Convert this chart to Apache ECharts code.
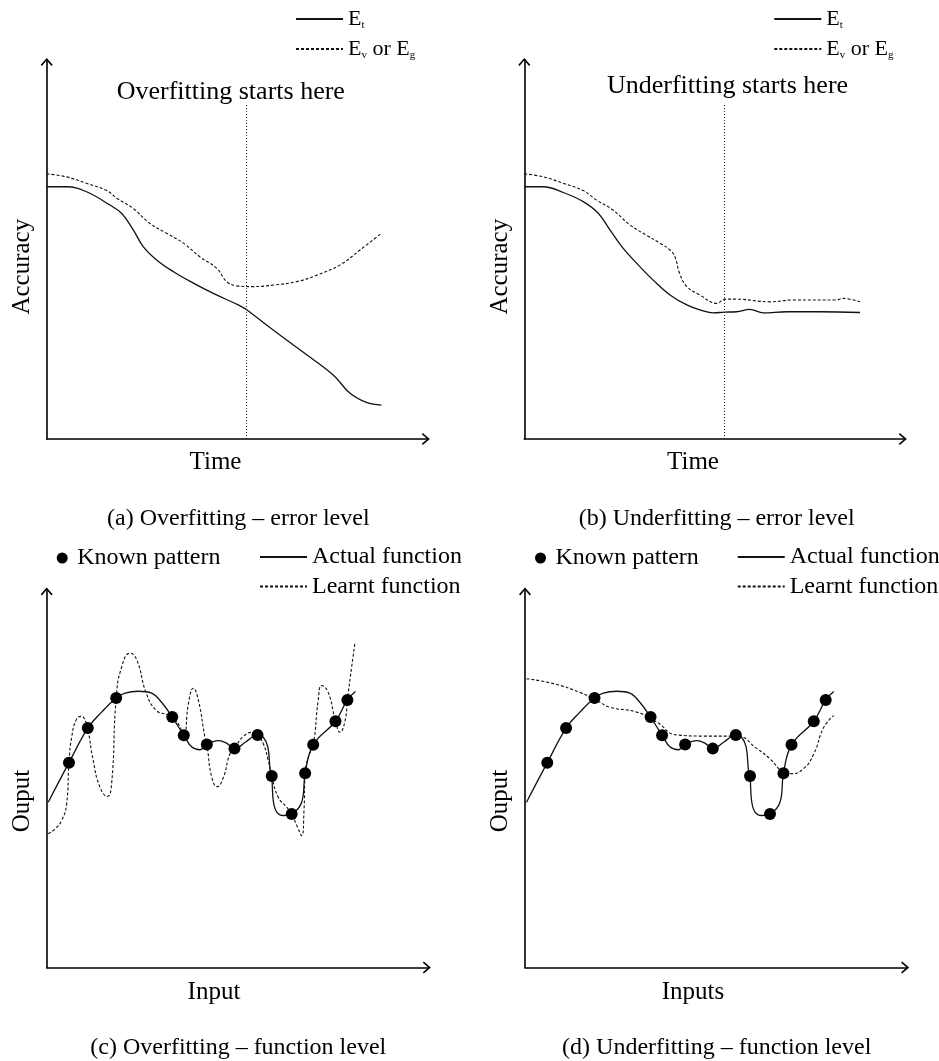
<!DOCTYPE html>
<html><head><meta charset="utf-8">
<script src="https://cdn.jsdelivr.net/npm/echarts@6/dist/echarts.min.js"></script>
<style>html,body{margin:0;padding:0;background:#fff}#c{width:939px;height:1061px}</style>
</head><body><div id="c"></div>
<script>
// ---- data (abstract units, axis 0..99.5) ----
const overTrain = [[0,66.2],[5.2,66.2],[10.4,64.9],[16.5,61.4],[19.6,59.2],[22.6,54.9],[25.2,50.5],[28.7,47.0],[33.1,43.9],[38.3,40.9],[43.5,38.2],[50.0,35.2],[52.2,33.9],[57.4,29.9],[66.1,23.4],[74.8,16.8],[79.2,12.0],[83.5,9.6],[87.4,8.9]];
const overValid = [[0,69.6],[5.2,68.8],[10.4,67.1],[15.7,65.2],[18.3,63.2],[22.6,60.5],[26.9,56.6],[31.3,54.0],[35.7,51.4],[40.0,47.8],[44.4,44.8],[47.0,41.3],[49.6,40.2],[53.9,40.0],[59.2,40.4],[65.3,41.3],[70.5,43.0],[76.6,45.7],[81.8,49.6],[87.4,54.0]];
const underTrain = [[0,66.2],[5.0,66.2],[10.2,64.7],[15.4,62.3],[19.4,59.2],[22.4,54.9],[25.5,50.5],[29.4,46.1],[33.7,41.7],[38.1,37.8],[42.5,35.2],[46.8,33.6],[49.4,33.1],[52.3,33.3],[55.5,33.4],[59.0,34.0],[62.5,33.1],[68.6,33.4],[77.3,33.4],[87.8,33.2]];
const underValid = [[0,69.6],[5.0,68.8],[10.2,67.1],[15.4,65.2],[18.9,62.7],[23.2,60.1],[27.6,56.2],[31.9,53.5],[35.5,51.4],[38.1,49.6],[39.4,47.8],[40.6,43.5],[42.5,40.0],[45.9,37.8],[50.3,35.6],[52.5,36.7],[55.5,36.7],[64.2,36.0],[70.3,36.5],[81.6,36.5],[83.3,36.9],[87.8,36.0]];
const stopX = [52.2, 52.3];
const stopTop = 88.2;
const knownX = [5.8,10.7,18.1,32.7,35.7,41.7,48.9,54.9,58.6,63.8,67.3,69.4,75.2,78.3];
const knownY = [53.9,63.0,70.9,65.9,61.1,58.7,57.6,61.2,50.4,40.4,51.1,58.6,64.8,70.4];
const actualFn = [[0.4,43.5],[5.8,53.9],[10.7,63.0],[14.3,67.2],[18.1,70.9],[20.4,72.2],[23.9,72.7],[27.3,72.2],[29.9,69.8],[32.7,65.9],[35.7,61.1],[37.8,58.0],[39.9,57.3],[41.7,58.7],[44.7,59.7],[46.9,59.0],[48.9,57.6],[51.9,59.4],[54.9,61.2],[56.4,60.6],[57.6,58.0],[58.2,51.8],[58.6,50.4],[59.0,43.9],[59.9,40.9],[61.6,40.0],[63.8,40.4],[66.4,43.5],[67.3,51.1],[69.4,58.6],[75.2,64.8],[78.3,70.4],[80.4,72.6]];
const learntOver = [[0.4,35.2],[2.2,36.5],[3.9,38.7],[5.2,43.1],[5.8,53.9],[6.5,60.6],[7.8,65.4],[9.1,66.1],[10.2,64.6],[10.7,63.0],[12.1,54.5],[13.9,47.4],[15.8,45.0],[16.9,48.3],[18.1,70.9],[19.5,79.0],[21.7,82.7],[23.4,81.1],[26.0,72.0],[28.6,67.6],[31.3,66.6],[32.7,65.9],[34.3,64.1],[35.7,61.1],[36.9,69.4],[38.2,73.5],[39.5,70.3],[41.2,60.6],[41.7,58.7],[43.0,50.0],[44.4,47.6],[46.0,50.0],[47.7,56.2],[48.9,57.6],[51.2,60.8],[53.8,61.9],[54.9,61.2],[56.4,58.9],[57.7,54.5],[58.6,50.4],[60.3,44.8],[62.5,42.2],[63.8,40.4],[65.1,37.4],[66.4,34.7],[67.0,41.3],[67.3,51.1],[68.1,55.3],[69.4,58.6],[70.7,70.3],[71.6,74.2],[73.3,72.4],[75.1,65.4],[76.4,61.9],[77.7,65.0],[78.3,70.4],[79.4,79.0],[80.3,85.6]];
const learntUnder = [[0.4,76.0],[7.4,74.7],[14.3,72.4],[18.7,70.3],[22.1,68.5],[29.1,67.2],[34.3,64.6],[39.5,61.2],[46.4,60.9],[55.1,60.9],[60.4,57.6],[63.8,54.9],[67.3,51.4],[69.0,51.0],[72.5,52.3],[75.2,56.2],[77.8,63.2],[80.4,66.3]];

const FONT = '"Liberation Serif", "Times New Roman", serif';
const INK = '#111';
const knownPts = knownX.map((x, i) => [x, knownY[i]]);

const chevron = 'path://M6,0 L12,7 L10.78,8.04 L6,2.46 L1.22,8.04 L0,7 Z';
function axis(type, gi) {
  return {
    type: 'value', gridIndex: gi, min: 0, max: 99.5,
    axisLine: { show: true, onZero: false, symbol: ['none', chevron], symbolSize: [12, 8], symbolOffset: [0, -2],
      lineStyle: { color: '#000', width: 1.6 } },
    axisTick: { show: false }, axisLabel: { show: false }, splitLine: { show: false }
  };
}
const grids = [
  { left: 46.7, top: 59.9, width: 381.1, height: 379.1 },
  { left: 524.3, top: 59.9, width: 380.5, height: 379.1 },
  { left: 46.7, top: 589.4, width: 382.1, height: 378.1 },
  { left: 525, top: 589.4, width: 382.1, height: 378.1 }
];
function solid(name, gi, data) {
  return { name, type: 'line', xAxisIndex: gi, yAxisIndex: gi, data, smooth: 0.4, symbol: 'none',
    color: INK, lineStyle: { color: INK, width: 1.3 }, silent: true, z: 3 };
}
function dashed(name, gi, data, sm) {
  return { name, type: 'line', xAxisIndex: gi, yAxisIndex: gi, data, smooth: sm, symbol: 'none',
    color: INK, lineStyle: { color: INK, width: 1.1, type: [3, 2] }, silent: true, z: 3 };
}
function stopLine(gi, x) {
  return { type: 'line', xAxisIndex: gi, yAxisIndex: gi, data: [], silent: true,
    markLine: { silent: true, symbol: ['none', 'none'], label: { show: false },
      lineStyle: { color: '#222', width: 1, type: [1, 2] },
      data: [[{ coord: [x, 0] }, { coord: [x, stopTop] }]] } };
}
function dots(gi) {
  return { name: 'Known pattern', type: 'scatter', xAxisIndex: gi, yAxisIndex: gi, data: knownPts,
    symbol: 'circle', symbolSize: 12, symbolKeepAspect: true,
    itemStyle: { color: '#000', opacity: 1 }, z: 5, silent: true };
}
const series = [
  solid('Et', 0, overTrain), dashed('EvEg', 0, overValid, 0.4), stopLine(0, stopX[0]),
  solid('Et', 1, underTrain), dashed('EvEg', 1, underValid, 0.4), stopLine(1, stopX[1]),
  solid('Actual function', 2, actualFn), dashed('Learnt function', 2, learntOver, 0.5), dots(2),
  solid('Actual function', 3, actualFn), dashed('Learnt function', 3, learntUnder, 0.5), dots(3)
];

const rich = {
  e: { fontFamily: FONT, fontSize: 22, lineHeight: 24, color: '#000' },
  s: { fontFamily: FONT, fontSize: 11, lineHeight: 10, color: '#000', verticalAlign: 'bottom' }
};
const eFmt = n => n === 'Et' ? '{e|E}{s|t}' : '{e|E}{s|v}{e| or E}{s|g}';
const noMarker = { color: 'rgba(0,0,0,0)', borderColor: 'rgba(0,0,0,0)', borderWidth: 0, opacity: 0 };
function leg(name, left, top, extra) {
  return Object.assign({ data: [name], left, top, padding: 0, orient: 'horizontal', selectedMode: false,
    itemWidth: 47, itemHeight: 10, itemStyle: noMarker,
    textStyle: { fontFamily: FONT, fontSize: 24, lineHeight: 24, color: '#000', rich } }, extra || {});
}
const dotLegend = { itemWidth: 20, itemHeight: 11, itemStyle: { color: '#000', opacity: 1 } };
const legends = [
  leg('Et', 295, 7, { formatter: eFmt }), leg('EvEg', 295, 37, { formatter: eFmt }),
  leg('Et', 773.3, 7, { formatter: eFmt }), leg('EvEg', 773.3, 37, { formatter: eFmt }),
  leg('Known pattern', 56.7, 546, dotLegend),
  leg('Actual function', 259, 545), leg('Learnt function', 259, 574.5),
  leg('Known pattern', 535, 546, dotLegend),
  leg('Actual function', 736.7, 545), leg('Learnt function', 736.7, 574.5)
];

function txt(text, x, y, size, rot) {
  return { type: 'text', x, y, rotation: rot || 0, silent: true,
    style: { text, fontFamily: FONT, fontSize: size, fill: '#000', align: 'center', verticalAlign: 'middle' } };
}
const graphics = [
  txt('Overfitting starts here', 230.8, 92.3, 26),
  txt('Underfitting starts here', 727.5, 86.3, 26),
  txt('Accuracy', 22, 266.7, 25, Math.PI / 2),
  txt('Accuracy', 500, 266.7, 25, Math.PI / 2),
  txt('Ouput', 22, 801, 25, Math.PI / 2),
  txt('Ouput', 500, 801, 25, Math.PI / 2),
  txt('Time', 215.5, 462.3, 25),
  txt('Time', 693, 462.3, 25),
  txt('Input', 214, 992, 25),
  txt('Inputs', 693, 992, 25),
  txt('(a) Overfitting \u2013 error level', 238.3, 519, 24),
  txt('(b) Underfitting \u2013 error level', 716.7, 519, 24),
  txt('(c) Overfitting \u2013 function level', 238.3, 1048, 24),
  txt('(d) Underfitting \u2013 function level', 716.7, 1048, 24)
];

const chart = echarts.init(document.getElementById('c'), null, { renderer: 'canvas' });
chart.setOption({
  animation: false,
  backgroundColor: '#fff',
  grid: grids,
  xAxis: [0, 1, 2, 3].map(i => axis('x', i)),
  yAxis: [0, 1, 2, 3].map(i => axis('y', i)),
  legend: legends,
  series,
  graphic: graphics
});
</script></body></html>
